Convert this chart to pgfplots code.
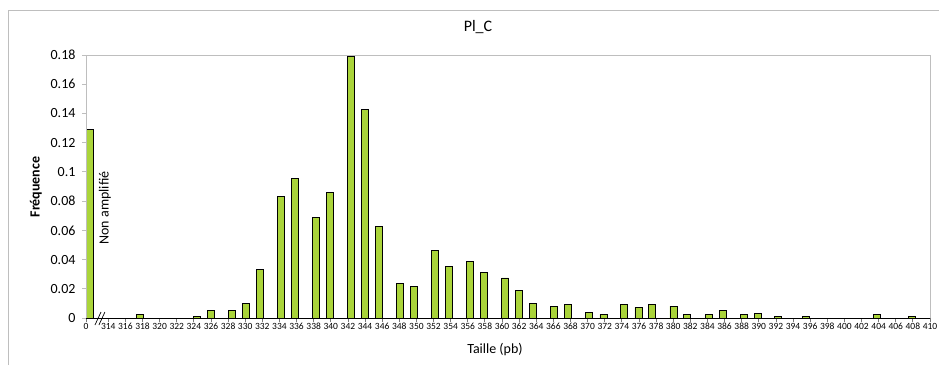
\documentclass[border=0pt]{standalone}
\usepackage{pgfplots}
\pgfplotsset{compat=1.18}
\usepackage{fontspec}
\setmainfont{Carlito}
\definecolor{barfill}{RGB}{170,212,58}
\definecolor{framegray}{RGB}{190,190,190}
\definecolor{tickgray}{RGB}{120,120,120}
\begin{document}
\begin{tikzpicture}[x=1pt,y=1pt]
\path[use as bounding box] (0,0) rectangle (939,365);
\draw[framegray, line width=1pt] (8,0) -- (8,354) -- (939,354);
\node[font=\fontsize{16}{18}\selectfont] at (478,338) {Pl\_C};
\node[font=\fontsize{14}{16}\selectfont\bfseries, rotate=90] at (36,178) {Fréquence};
\node[font=\fontsize{14}{16}\selectfont] at (495,15) {Taille (pb)};
\begin{axis}[
  at={(86pt,47pt)}, anchor=south west,
  scale only axis, width=844pt, height=263pt,
  xmin=311.4, xmax=410, ymin=0, ymax=0.18,
  clip=false,
  axis line style={draw=none},
  tick align=outside,
  xtick pos=left, ytick pos=left,
  major tick length=4pt,
  every tick/.style={framegray, line width=0.8pt},
  x tick style={tickgray},
  xtick={311.4,314,316,318,320,322,324,326,328,330,332,334,336,338,340,342,344,346,348,350,352,354,356,358,360,362,364,366,368,370,372,374,376,378,380,382,384,386,388,390,392,394,396,398,400,402,404,406,408,410},
  xticklabels={0,314,316,318,320,322,324,326,328,330,332,334,336,338,340,342,344,346,348,350,352,354,356,358,360,362,364,366,368,370,372,374,376,378,380,382,384,386,388,390,392,394,396,398,400,402,404,406,408,410},
  ytick={0,0.02,0.04,0.06,0.08,0.1,0.12,0.14,0.16,0.18},
  yticklabels={0,0.02,0.04,0.06,0.08,0.1,0.12,0.14,0.16,0.18},
  xticklabel style={font=\fontsize{9.5}{11}\selectfont, inner sep=1pt},
  yticklabel style={font=\fontsize{14}{16}\selectfont, xshift=-3pt},
  /pgf/number format/assume math mode=true,
]
\addplot[ybar, bar width=7pt, fill=barfill, draw=black, line width=0.9pt] coordinates {
(311.85,0.129)
(317.76,0.0025)
(324.33,0.001)
(325.96,0.0053)
(328.45,0.0050)
(330.06,0.0100)
(331.72,0.0333)
(334.17,0.0830)
(335.81,0.0956)
(338.26,0.0687)
(339.90,0.0858)
(342.32,0.1789)
(343.99,0.1424)
(345.66,0.0628)
(348.11,0.0235)
(349.74,0.0219)
(352.19,0.0465)
(353.82,0.0351)
(356.28,0.0388)
(357.91,0.0313)
(360.37,0.0274)
(362.00,0.0187)
(363.61,0.0101)
(366.09,0.0082)
(367.76,0.0091)
(370.21,0.0041)
(371.85,0.0025)
(374.30,0.0091)
(375.94,0.0073)
(377.57,0.0091)
(380.03,0.0082)
(381.66,0.0025)
(384.14,0.0025)
(385.77,0.0053)
(388.23,0.0025)
(389.86,0.0034)
(392.29,0.0009)
(395.54,0.0009)
(403.80,0.0025)
(407.89,0.0009)
};
\draw[framegray, line width=1pt] (rel axis cs:0,0) -- (rel axis cs:0,1) -- (rel axis cs:1,1) -- (rel axis cs:1,0);
\draw[black, line width=1pt] (rel axis cs:0,0) -- (rel axis cs:1,0);
\draw[black, line width=0.7pt] (axis cs:312.45,-0.0048) -- (axis cs:313.15,0.0041);
\draw[black, line width=0.7pt] (axis cs:312.91,-0.0048) -- (axis cs:313.61,0.0041);
\node[rotate=90, font=\fontsize{14}{16}\selectfont] at (axis cs:313.6,0.0753) {Non amplifié};
\end{axis}
\end{tikzpicture}
\end{document}
